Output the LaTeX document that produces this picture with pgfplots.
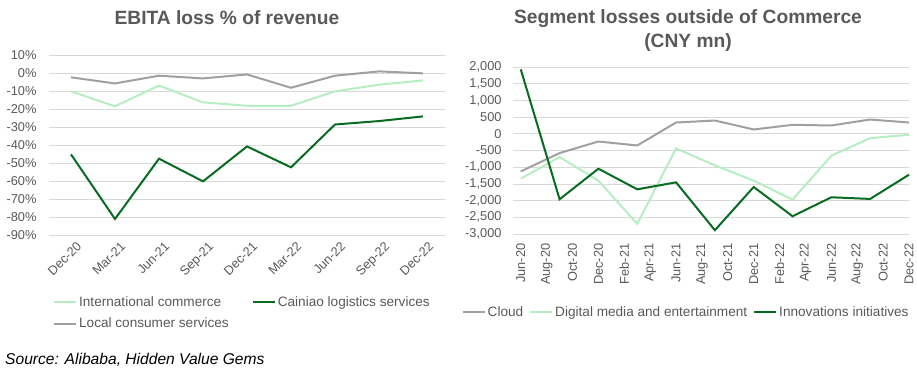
\documentclass[border=0pt]{standalone}
\usepackage{pgfplots}
\pgfplotsset{compat=1.18}
\usepackage{fontspec}
\setmainfont{Liberation Sans}
\definecolor{dkgreen}{RGB}{8,108,32}
\definecolor{ltgreen}{RGB}{182,238,194}
\definecolor{lgray}{RGB}{160,160,160}
\definecolor{txt}{RGB}{89,89,89}
\definecolor{gridc}{RGB}{217,217,217}
\pgfplotsset{
  mystyle/.style={
    scale only axis,
    axis line style={draw=none},
    major tick length=0pt,
    ymajorgrids,
    grid style={gridc, line width=0.8bp},
    tick label style={font=\fontsize{12.8bp}{14bp}\selectfont, text=txt},
    /pgf/number format/assume math mode=true,
    clip=false,
    legend style={draw=none, fill=none, font=\fontsize{13.6bp}{15bp}\selectfont, text=txt,
      inner sep=0pt, row sep=6bp},
    legend cell align=left,
    legend image code/.code={\draw[#1] (0bp,0bp) -- (22bp,0bp);},
  }
}
\begin{document}
\begin{tikzpicture}[x=1bp,y=1bp]
\useasboundingbox (0,0) rectangle (917,-378);
\node[font=\bfseries\fontsize{19.2bp}{22bp}\selectfont, text=txt] at (227,-18) {EBITA loss \% of revenue};
\node[font=\bfseries\fontsize{19.2bp}{24bp}\selectfont, text=txt, align=center] at (688,-31) {Segment losses outside of Commerce\\(CNY mn)};
\node[font=\itshape\fontsize{15.6bp}{17bp}\selectfont, anchor=west, inner sep=0pt] at (5,-360) {Source: Alibaba, Hidden Value Gems};

\begin{axis}[mystyle,
  at={(49bp,-235bp)}, anchor=south west,
  width=396bp, height=180bp,
  xmin=-0.5, xmax=8.5, ymin=-90, ymax=10,
  ytick={-90,-80,...,10},
  yticklabel={\pgfmathprintnumber{\tick}\%},
  yticklabel style={xshift=-9bp},
  xtick={0,...,8},
  xticklabels={Dec-20,Mar-21,Jun-21,Sep-21,Dec-21,Mar-22,Jun-22,Sep-22,Dec-22},
  xticklabel style={rotate=45, anchor=north east, yshift=-4bp, xshift=3bp},
  legend columns=2,
  legend style={at={(0.01,-0.33)}, anchor=north west, /tikz/every even column/.append style={column sep=21bp}},
]
\addplot[ltgreen, line width=2bp] coordinates {(0,-10.2) (1,-18.5) (2,-7) (3,-16.3) (4,-18.2) (5,-18.2) (6,-10.2) (7,-6.5) (8,-4.1)};
\addlegendentry{International commerce}
\addplot[dkgreen, line width=2bp] coordinates {(0,-45.2) (1,-81.1) (2,-47.6) (3,-60.2) (4,-40.8) (5,-52.4) (6,-28.6) (7,-26.7) (8,-24.1)};
\addlegendentry{Cainiao logistics services}
\addplot[lgray, line width=2bp] coordinates {(0,-2.4) (1,-5.8) (2,-1.5) (3,-3) (4,-0.8) (5,-8.2) (6,-1.5) (7,0.9) (8,-0.2)};
\addlegendentry{Local consumer services}
\end{axis}

\begin{axis}[mystyle,
  at={(513bp,-234bp)}, anchor=south west,
  width=396bp, height=167bp,
  xmin=-0.6, xmax=30, ymin=-3000, ymax=2000,
  ytick={-3000,-2500,...,2000},
  yticklabel style={xshift=-8bp, /pgf/number format/1000 sep={,}},
  xtick={0,2,...,30},
  xticklabels={Jun-20,Aug-20,Oct-20,Dec-20,Feb-21,Apr-21,Jun-21,Aug-21,Oct-21,Dec-21,Feb-22,Apr-22,Jun-22,Aug-22,Oct-22,Dec-22},
  xticklabel style={rotate=90, anchor=east, xshift=-6bp},
  legend columns=3,
  legend style={at={(-0.13,-0.42)}, anchor=north west, /tikz/every even column/.append style={column sep=4bp}},
]
\addplot[lgray, line width=2bp] coordinates {(0,-1125) (3,-577) (6,-230) (9,-349) (12,338) (15,398) (18,129) (21,269) (24,249) (27,428) (30,338)};
\addlegendentry{Cloud}
\addplot[ltgreen, line width=2bp] coordinates {(0,-1343) (3,-697) (6,-1403) (9,-2697) (12,-438) (15,-945) (18,-1403) (21,-1970) (24,-657) (27,-129) (30,-30)};
\addlegendentry{Digital media and entertainment}
\addplot[dkgreen, line width=2bp] coordinates {(0,1930) (3,-1960) (6,-1045) (9,-1662) (12,-1453) (15,-2886) (18,-1592) (21,-2468) (24,-1900) (27,-1950) (30,-1224)};
\addlegendentry{Innovations initiatives}
\end{axis}
\end{tikzpicture}
\end{document}
